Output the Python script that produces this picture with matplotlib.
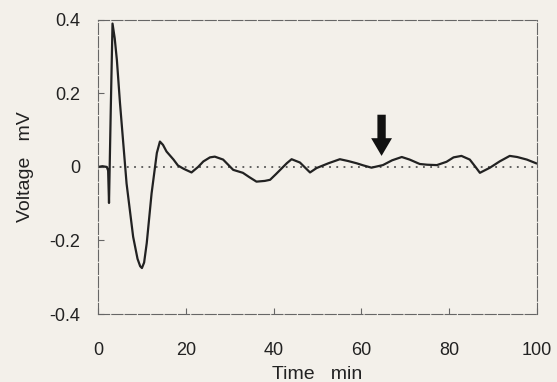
import matplotlib.pyplot as plt
import numpy as np

plt.rcParams['font.family'] = ['Liberation Sans', 'DejaVu Sans']

# trace
time_min = [0, 1.0, 2.0, 2.3, 2.5, 2.9, 3.3, 3.8, 4.3, 5.0, 6.5, 8.0, 9.0, 9.6, 10.0,
            10.5, 11.1, 12.2, 13.4, 14.1, 14.8, 15.6, 17.2, 18.2, 19.5, 21.3, 22.8,
            24.0, 25.5, 26.6, 28.5, 30.8, 33.0, 34.5, 36.1, 38.0, 39.2, 40.5, 41.5,
            43.0, 44.1, 46.0, 48.3, 49.8, 52.5, 55.1, 57.0, 58.9, 60.5, 62.3, 64.9,
            67.0, 69.2, 71.0, 73.3, 75.0, 77.2, 79.4, 81.0, 82.8, 84.7, 86.0, 87.0,
            89.3, 91.5, 93.8, 95.5, 97.7, 99.8]
voltage_mv = [0.0, 0.002, 0.0, -0.01, -0.098, 0.155, 0.39, 0.35, 0.29, 0.174,
              -0.045, -0.19, -0.25, -0.27, -0.275, -0.26, -0.207, -0.072, 0.038,
              0.069, 0.06, 0.042, 0.02, 0.004, -0.005, -0.015, 0.0, 0.015, 0.026,
              0.028, 0.02, -0.008, -0.016, -0.028, -0.04, -0.038, -0.035, -0.02,
              -0.008, 0.01, 0.021, 0.012, -0.015, -0.003, 0.01, 0.021, 0.016, 0.01,
              0.004, -0.002, 0.005, 0.018, 0.027, 0.02, 0.008, 0.006, 0.005, 0.014,
              0.026, 0.03, 0.02, 0.0, -0.016, -0.002, 0.015, 0.03, 0.027, 0.02, 0.01]
arrow_time = 64.6
arrow_top, arrow_tip = 0.142, 0.03

x_ticks = [0, 20, 40, 60, 80, 100]
y_ticks = [-0.4, -0.2, 0, 0.2, 0.4]
y_labels = ['-0.4', '-0.2', '0', '0.2', '0.4']

bg = '#f3f0ea'
fig = plt.figure(figsize=(5.57, 3.82), dpi=100, facecolor=bg)
ax = fig.add_axes([0.176, 0.178, 0.788, 0.77], facecolor=bg)

ax.axhline(0, color='#555555', linestyle=(0, (1, 3)), linewidth=1.3, zorder=1)
ax.plot(time_min, voltage_mv, color='#222222', linewidth=1.6, zorder=2)

ax.annotate('', xy=(arrow_time, arrow_tip), xytext=(arrow_time, arrow_top),
            arrowprops=dict(arrowstyle='simple,head_width=1.0,head_length=0.85,tail_width=0.4',
                            color='#111111', lw=0, mutation_scale=15,
                            shrinkA=0, shrinkB=0))

ax.set_xlim(0, 100)
ax.set_ylim(-0.4, 0.4)
ax.set_xticks(x_ticks)
ax.set_yticks(y_ticks)
ax.set_yticklabels(y_labels)
ax.tick_params(direction='in', length=4, width=0.8, colors='#666666',
               labelcolor='#222222', labelsize=13)
ax.tick_params(axis='x', pad=20)
ax.tick_params(axis='y', pad=13)
for s in ax.spines.values():
    s.set_color('#666666')
    s.set_linewidth(0.8)
    s.set_linestyle((0, (10, 2)))

ax.set_xlabel('Time   min', fontsize=14, color='#222222', labelpad=5)
ax.set_ylabel('Voltage   mV', fontsize=14, color='#222222', labelpad=11)

fig.savefig('out.png', dpi=100, facecolor=bg)
